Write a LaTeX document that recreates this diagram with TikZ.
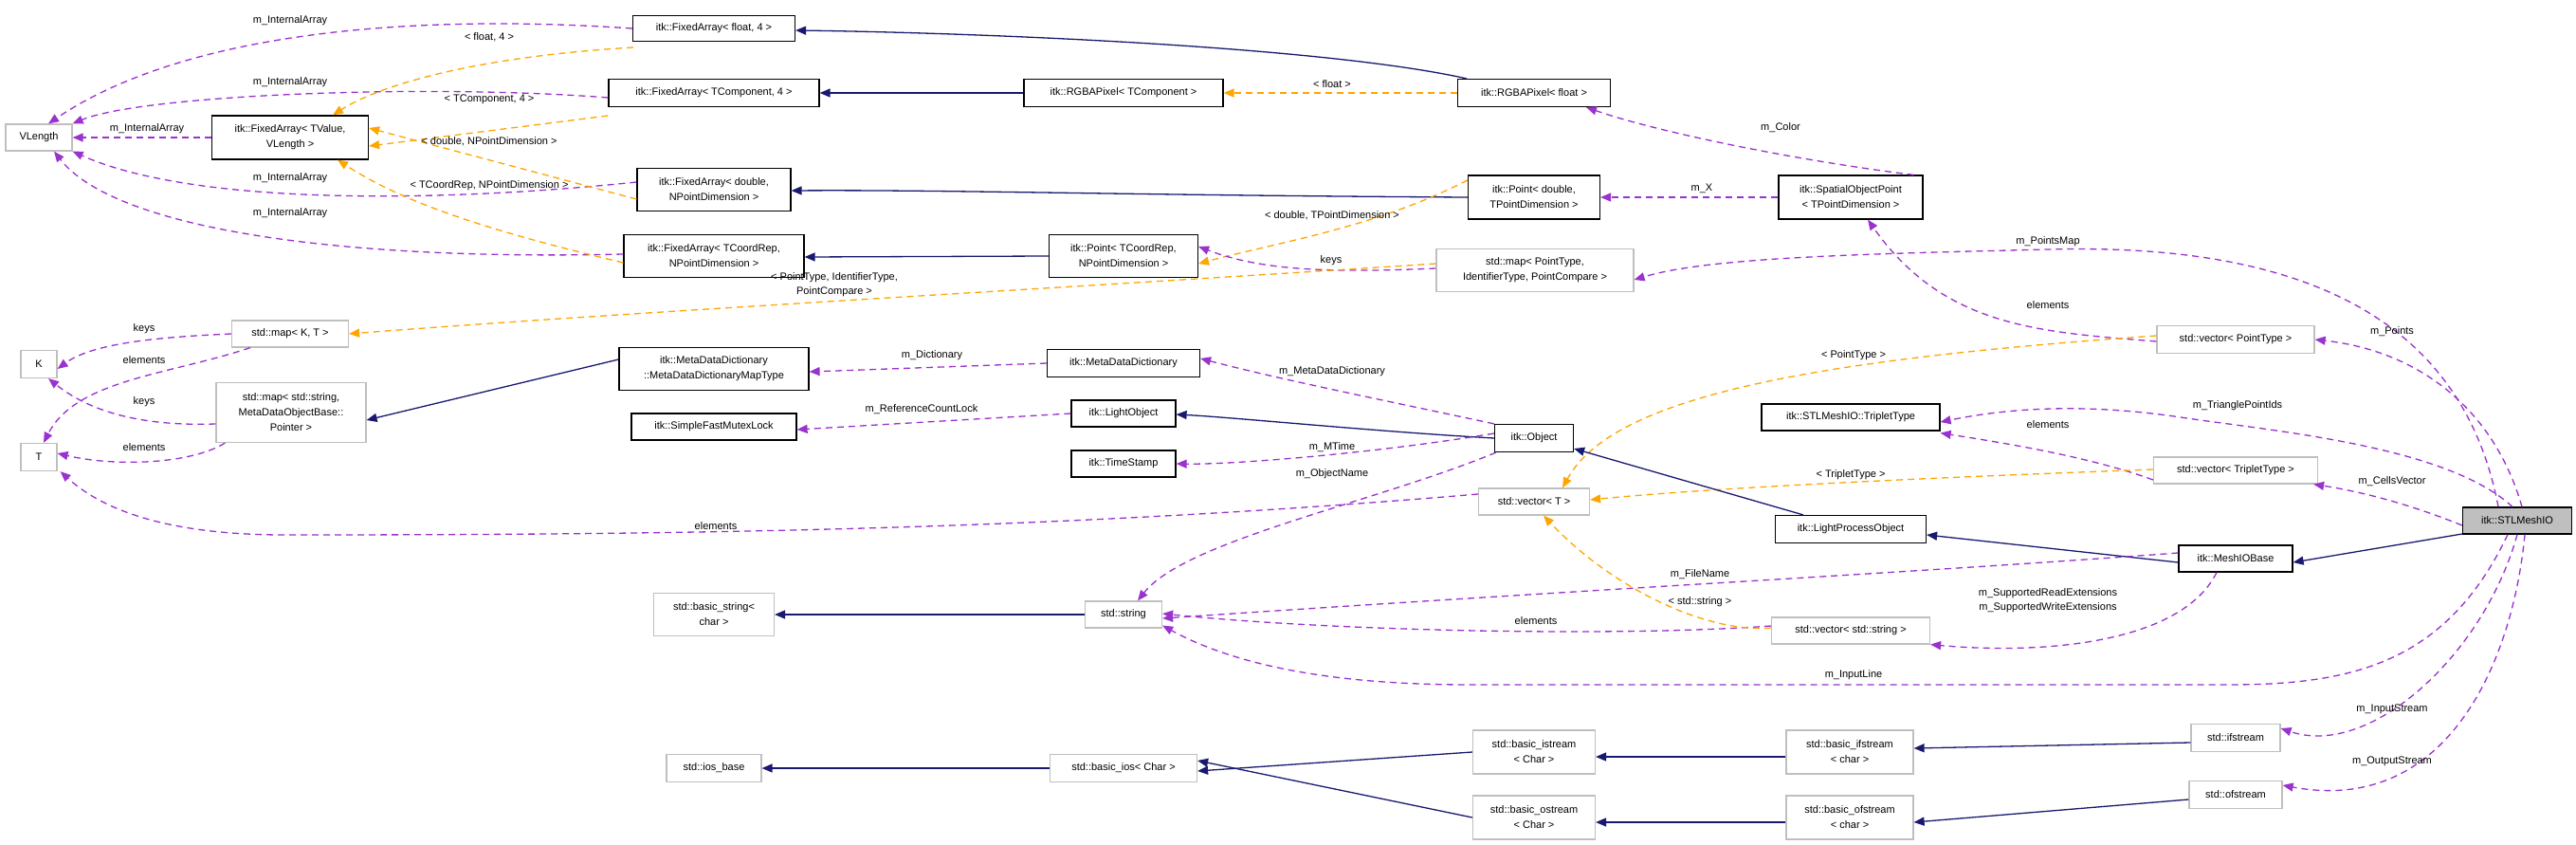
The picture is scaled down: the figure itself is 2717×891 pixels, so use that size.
\documentclass[tikz,border=0pt]{standalone}
\usepackage{fontspec}
\setmainfont{Liberation Sans}
\usetikzlibrary{arrows.meta}
\definecolor{navy}{HTML}{191970}
\definecolor{orng}{HTML}{FFA500}
\definecolor{purp}{HTML}{9A32CD}
\definecolor{gbord}{HTML}{BFBFBF}
\begin{document}
\begin{tikzpicture}[x=1pt,y=-1pt,
  every node/.style={font=\fontsize{11}{16}\selectfont, inner sep=2pt, align=center},
  cls/.style={draw=black, line width=1.2pt, fill=white},
  ext/.style={draw=gbord, line width=1.2pt, fill=white},
  mainc/.style={draw=black, line width=1.2pt, fill=gbord},
  inh/.style={draw=navy, line width=1.3pt, -{Triangle[length=11pt,width=9pt]}},
  tmpl/.style={draw=orng, line width=1.3pt, dash pattern=on 7pt off 5pt, -{Triangle[length=11pt,width=9pt]}},
  use/.style={draw=purp, line width=1.3pt, dash pattern=on 7pt off 5pt, -{Triangle[length=11pt,width=9pt]}},
  lbl/.style={font=\fontsize{11}{15}\selectfont, inner sep=0pt}]
\useasboundingbox (0,0) rectangle (2717,891);
\fill[white] (0,0) rectangle (2717,891);
% nodes
\node[ext, minimum width=70pt, minimum height=28pt] (vl) at (41,145) {VLength};
\node[cls, minimum width=165pt, minimum height=46pt] (fav) at (306,145) {itk::FixedArray< TValue,\\VLength >};
\node[cls, minimum width=171pt, minimum height=27pt] (fa4) at (753,30) {itk::FixedArray< float, 4 >};
\node[cls, minimum width=222pt, minimum height=29pt] (fac) at (753,98) {itk::FixedArray< TComponent, 4 >};
\node[cls, minimum width=162pt, minimum height=45pt] (fad) at (753,200) {itk::FixedArray< double,\\NPointDimension >};
\node[cls, minimum width=190pt, minimum height=45pt] (far) at (753,270) {itk::FixedArray< TCoordRep,\\NPointDimension >};
\node[cls, minimum width=210pt, minimum height=29pt] (rgc) at (1185,98) {itk::RGBAPixel< TComponent >};
\node[cls, minimum width=161pt, minimum height=29pt] (rgf) at (1618,98) {itk::RGBAPixel< float >};
\node[cls, minimum width=139pt, minimum height=46pt] (ptd) at (1618,208) {itk::Point< double,\\TPointDimension >};
\node[cls, minimum width=157pt, minimum height=45pt] (ptr) at (1185,270) {itk::Point< TCoordRep,\\NPointDimension >};
\node[ext, minimum width=208pt, minimum height=45pt] (mpt) at (1619,285) {std::map< PointType,\\IdentifierType, PointCompare >};
\node[cls, minimum width=152pt, minimum height=46pt] (sop) at (1952,208) {itk::SpatialObjectPoint\\< TPointDimension >};
\node[ext, minimum width=123pt, minimum height=28pt] (mkt) at (306,352) {std::map< K, T >};
\node[ext, minimum width=38pt, minimum height=29pt] (k) at (41,384) {K};
\node[ext, minimum width=38pt, minimum height=29pt] (t) at (41,482) {T};
\node[ext, minimum width=158pt, minimum height=63pt] (mst) at (307,435) {std::map< std::string,\\MetaDataObjectBase::\\Pointer >};
\node[cls, minimum width=200pt, minimum height=45pt] (mdm) at (753,389) {itk::MetaDataDictionary\\::MetaDataDictionaryMapType};
\node[cls, minimum width=161pt, minimum height=29pt] (mdd) at (1185,383) {itk::MetaDataDictionary};
\node[cls, minimum width=174pt, minimum height=28pt] (sfm) at (753,450) {itk::SimpleFastMutexLock};
\node[cls, minimum width=110pt, minimum height=28pt] (lo) at (1185,436) {itk::LightObject};
\node[cls, minimum width=110pt, minimum height=28pt] (ts) at (1185,489) {itk::TimeStamp};
\node[cls, minimum width=83pt, minimum height=29pt] (obj) at (1618,462) {itk::Object};
\node[ext, minimum width=117pt, minimum height=28pt] (vt) at (1618,529) {std::vector< T >};
\node[ext, minimum width=127pt, minimum height=45pt] (bsc) at (753,648) {std::basic\_string<\\char >};
\node[ext, minimum width=81pt, minimum height=28pt] (str) at (1185,648) {std::string};
\node[ext, minimum width=100pt, minimum height=29pt] (iob) at (753,810) {std::ios\_base};
\node[ext, minimum width=155pt, minimum height=29pt] (bio) at (1185,810) {std::basic\_ios< Char >};
\node[ext, minimum width=166pt, minimum height=29pt] (vpt) at (2358,358) {std::vector< PointType >};
\node[cls, minimum width=188pt, minimum height=28pt] (trp) at (1952,440) {itk::STLMeshIO::TripletType};
\node[ext, minimum width=173pt, minimum height=28pt] (vtr) at (2358,496) {std::vector< TripletType >};
\node[cls, minimum width=159pt, minimum height=29pt] (lpo) at (1952,558) {itk::LightProcessObject};
\node[cls, minimum width=120pt, minimum height=28pt] (mib) at (2358,589) {itk::MeshIOBase};
\node[mainc, minimum width=115pt, minimum height=28pt] (stl) at (2655,549) {itk::STLMeshIO};
\node[ext, minimum width=167pt, minimum height=28pt] (vst) at (1952,665) {std::vector< std::string >};
\node[ext, minimum width=129pt, minimum height=46pt] (bis) at (1618,793) {std::basic\_istream\\< Char >};
\node[ext, minimum width=134pt, minimum height=46pt] (bif) at (1951,793) {std::basic\_ifstream\\< char >};
\node[ext, minimum width=94pt, minimum height=29pt] (ifs) at (2358,778) {std::ifstream};
\node[ext, minimum width=129pt, minimum height=46pt] (bos) at (1618,862) {std::basic\_ostream\\< Char >};
\node[ext, minimum width=134pt, minimum height=46pt] (bof) at (1951,862) {std::basic\_ofstream\\< char >};
\node[ext, minimum width=98pt, minimum height=29pt] (ofs) at (2358,838) {std::ofstream};
% fixed array -> VLength
\draw[use] (fa4.west) .. controls (450,15) and (200,30) .. ([xshift=10pt]vl.north);
\node[lbl] at (306,22) {m\_InternalArray};
\draw[use] ([yshift=-5pt]fac.west) .. controls (450,88) and (150,100) .. (vl.north east);
\node[lbl] at (306,87) {m\_InternalArray};
\draw[use] (fav.west) -- (vl.east);
\node[lbl] at (155,136) {m\_InternalArray};
\draw[use] ([yshift=8pt]fad.west) .. controls (450,215) and (200,215) .. (vl.south east);
\node[lbl] at (306,188) {m\_InternalArray};
\draw[use] ([yshift=2pt]far.west) .. controls (350,275) and (120,240) .. ([xshift=16pt]vl.south);
\node[lbl] at (306,225) {m\_InternalArray};
% templates to FA TValue
\draw[tmpl] ([yshift=-10pt]fa4.east |- 0,40) ++(-171pt,0) .. controls (500,60) and (400,90) .. ([xshift=45pt]fav.north);
\node[lbl] at (516,39) {< float, 4 >};
\draw[tmpl] ([yshift=-12pt]fac.west |- 0,110) -- ([yshift=-9pt]fav.east);
\node[lbl] at (516,105) {< TComponent, 4 >};
\draw[tmpl] ([yshift=-10pt]fad.west) -- ([yshift=10pt]fav.east);
\node[lbl] at (516,149) {< double, NPointDimension >};
\draw[tmpl] ([yshift=-7pt]far.west) .. controls (500,240) and (420,210) .. ([xshift=50pt]fav.south);
\node[lbl] at (516,196) {< TCoordRep, NPointDimension >};
% inheritance of fixed arrays
\draw[inh] ([xshift=10pt]rgf.north west) .. controls (1400,50) and (1050,35) .. ([yshift=-2pt]fa4.east);
\draw[inh] (rgc.west) -- (fac.east);
\draw[inh] (ptd.west) .. controls (1200,206) and (1000,200) .. ([yshift=-1pt]fad.east);
\draw[inh] (ptr.west) -- ([yshift=-1pt]far.east);
\draw[tmpl] (rgf.west) -- (rgc.east);
\node[lbl] at (1405,89) {< float >};
\draw[tmpl] ([yshift=18pt]ptd.west) .. controls (1450,240) and (1350,255) .. ([yshift=-8pt]ptr.east);
\node[lbl] at (1405,227) {< double, TPointDimension >};
\draw[use] ([yshift=2pt]mpt.west) .. controls (1400,288) and (1330,285) .. ([yshift=10pt]ptr.east);
\node[lbl] at (1404,275) {keys};
\draw[tmpl] ([yshift=7pt]mpt.west) .. controls (1100,305) and (650,330) .. (mkt.east);
\node[lbl] at (880,300) {< PointType, IdentifierType,\\PointCompare >};
\draw[use] ([xshift=-10pt]sop.north east) .. controls (1900,170) and (1750,140) .. ([xshift=55pt]rgf.south);
\node[lbl] at (1878,135) {m\_Color};
\draw[use] (sop.west) -- (ptd.east);
\node[lbl] at (1795,199) {m\_X};
% STLMeshIO relations
\draw[use] ([xshift=-20pt]stl.north) .. controls (2600,350) and (2450,255) .. (2160,263) .. controls (1950,268) and (1800,272) .. ([yshift=-10pt]mpt.east);
\node[lbl] at (2160,255) {m\_PointsMap};
\draw[use] ([yshift=-2pt]vpt.west) .. controls (2150,350) and (2050,345) .. ([xshift=18pt]sop.south);
\node[lbl] at (2160,322) {elements};
\draw[use] ([xshift=5pt]stl.north) .. controls (2630,430) and (2550,370) .. (vpt.east);
\node[lbl] at (2523,350) {m\_Points};
\draw[tmpl] ([yshift=4pt]vpt.west) .. controls (1900,380) and (1700,420) .. ([xshift=30pt]vt.north);
\node[lbl] at (1955,375) {< PointType >};
\draw[use] ([xshift=-5pt]stl.north) .. controls (2580,470) and (2400,455) .. (2300,440) .. controls (2200,425) and (2120,430) .. ([yshift=-5pt]trp.east);
\node[lbl] at (2360,428) {m\_TrianglePointIds};
\draw[use] ([yshift=-10pt]vtr.west) .. controls (2200,480) and (2100,465) .. ([yshift=-2pt]trp.south east);
\node[lbl] at (2160,448) {elements};
\draw[use] ([yshift=-5pt]stl.west) .. controls (2550,535) and (2500,520) .. ([xshift=-5pt]vtr.south east);
\node[lbl] at (2523,508) {m\_CellsVector};
\draw[tmpl] ([yshift=1pt]vtr.west) .. controls (2000,505) and (1800,515) .. ([yshift=2pt]vt.east);
\node[lbl] at (1952,501) {< TripletType >};
\draw[inh] ([yshift=-6pt]stl.west |- 0,557) -- ([yshift=-4pt]mib.east);
\draw[inh] ([yshift=-4pt]mib.west) -- ([yshift=-6pt]lpo.east);
\draw[inh] ([xshift=30pt]lpo.north west) -- ([yshift=4pt]obj.south east);
\draw[inh] (obj.west) .. controls (1450,455) and (1300,440) .. ([yshift=-1pt]lo.east);
\draw[use] (obj.north west) .. controls (1450,420) and (1350,400) .. ([yshift=5pt]mdd.east);
\node[lbl] at (1405,392) {m\_MetaDataDictionary};
\draw[use] (mdd.west) -- ([yshift=-3pt]mdm.east);
\node[lbl] at (983,375) {m\_Dictionary};
\draw[inh] ([yshift=10pt]mdm.west) -- ([yshift=-8pt]mst.east);
\draw[use] (lo.west) -- ([yshift=-3pt]sfm.east);
\node[lbl] at (972,432) {m\_ReferenceCountLock};
\draw[use] ([yshift=5pt]obj.west) .. controls (1450,478) and (1300,490) .. (ts.east);
\node[lbl] at (1405,472) {m\_MTime};
\draw[use] ([xshift=2pt]obj.south west) .. controls (1450,530) and (1250,570) .. ([xshift=15pt]str.north);
\node[lbl] at (1405,500) {m\_ObjectName};
\draw[use] ([yshift=8pt]vt.west) .. controls (1100,560) and (700,564) .. (300,564) .. controls (160,564) and (100,530) .. ([xshift=3pt]t.south east);
\node[lbl] at (755,555) {elements};
\draw[use] ([yshift=6pt]mib.west) .. controls (2000,605) and (1700,620) .. ([yshift=-4pt]str.east);
\node[lbl] at (1793,606) {m\_FileName};
\draw[use] ([yshift=5pt]vst.west) .. controls (1700,672) and (1400,665) .. ([yshift=1pt]str.east);
\node[lbl] at (1620,655) {elements};
\draw[tmpl] ([yshift=3pt]vst.west) .. controls (1800,668) and (1700,620) .. ([xshift=10pt]vt.south);
\node[lbl] at (1793,635) {< std::string >};
\draw[use] ([xshift=-20pt]mib.south) .. controls (2300,680) and (2150,690) .. (vst.south east);
\node[lbl] at (2160,633) {m\_SupportedReadExtensions\\m\_SupportedWriteExtensions};
\draw[use] ([xshift=-10pt]stl.south) .. controls (2580,700) and (2480,722) .. (2350,722) -- (1550,722) .. controls (1400,722) and (1300,700) .. ([yshift=3pt]str.south east);
\node[lbl] at (1955,712) {m\_InputLine};
\draw[inh] (str.west) -- (bsc.east);
\draw[inh] (bio.west) -- (iob.east);
\draw[inh] (bis.west) -- ([yshift=-3pt]bio.east);
\draw[inh] (bos.west) -- ([yshift=8pt]bio.east);
\draw[inh] ([yshift=-5pt]bif.west) -- ([yshift=-5pt]bis.east);
\draw[inh] ([yshift=-5pt]bof.west) -- ([yshift=-5pt]bos.east);
\draw[inh] ([yshift=-5pt]ifs.west) -- ([yshift=4pt]bif.west -| bif.east);
\draw[inh] ([yshift=-5pt]ofs.west) -- ([yshift=-5pt]bof.east);
\draw[use] (stl.south) .. controls (2620,690) and (2500,800) .. ([yshift=10pt]ifs.east);
\node[lbl] at (2523,748) {m\_InputStream};
\draw[use] ([xshift=8pt]stl.south) .. controls (2650,700) and (2580,860) .. ([yshift=10pt]ofs.east);
\node[lbl] at (2523,803) {m\_OutputStream};
% left cluster
\draw[use] (mkt.west) .. controls (180,355) and (100,360) .. ([yshift=-5pt]k.east);
\node[lbl] at (152,347) {keys};
\draw[use] ([xshift=20pt]mkt.south west) .. controls (180,395) and (80,400) .. ([xshift=5pt]t.north);
\node[lbl] at (152,380) {elements};
\draw[use] ([yshift=-2pt]mst.west |- 0,445) ++(0,0) .. controls (140,450) and (90,430) .. ([xshift=10pt]k.south);
\node[lbl] at (152,424) {keys};
\draw[use] ([xshift=10pt]mst.south west) .. controls (200,490) and (120,492) .. ([yshift=4pt]t.east);
\node[lbl] at (152,472) {elements};
\end{tikzpicture}
\end{document}
